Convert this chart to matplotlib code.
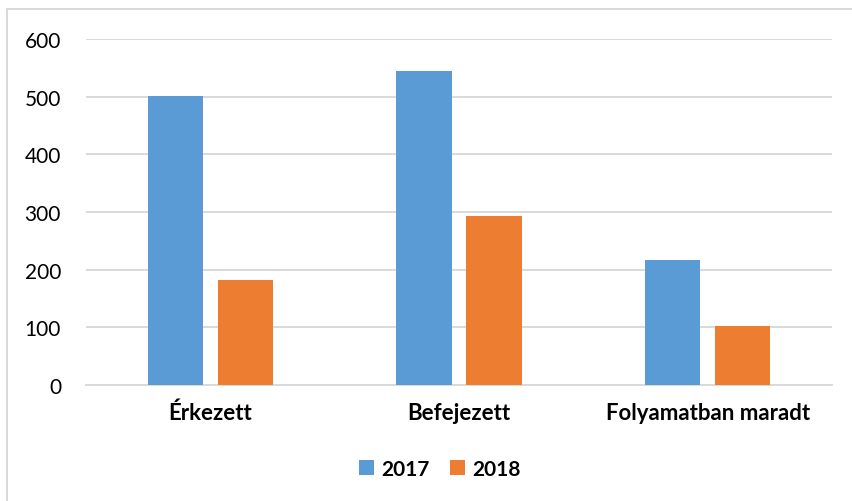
import matplotlib.pyplot as plt
import numpy as np
from matplotlib.lines import Line2D

categories = ["Érkezett", "Befejezett", "Folyamatban maradt"]
values_2017 = [501, 545, 217]
values_2018 = [182, 293, 102]
series_labels = ["2017", "2018"]

plt.rcParams["font.family"] = ["Lato", "DejaVu Sans"]

fig = plt.figure(figsize=(8.53, 5.02), dpi=100)
ax = fig.add_axes([86 / 853, 1 - 386 / 502, 746 / 853, 346 / 502])

x = np.arange(len(categories))
width = 0.222
offset = 0.141
ax.bar(x - offset, values_2017, width, color="#5b9bd5", label=series_labels[0], zorder=3)
ax.bar(x + offset, values_2018, width, color="#ed7d31", label=series_labels[1], zorder=3)

ax.set_xlim(-0.5, 2.5)
ax.set_ylim(0, 600)
ax.set_yticks(range(0, 601, 100))
ax.yaxis.grid(True, color="#d9d9d9", linewidth=1.4, zorder=0)
ax.tick_params(axis="y", length=0, pad=18, labelsize=15)
ax.tick_params(axis="x", length=0, pad=12)
ax.set_xticks(x)
ax.set_xticklabels(categories, fontsize=16, fontweight="bold")
for spine in ["top", "right", "left"]:
    ax.spines[spine].set_visible(False)
ax.spines["bottom"].set_color("#d9d9d9")
ax.spines["bottom"].set_linewidth(1.4)

fig.legend(loc="center", bbox_to_anchor=(440 / 853, 1 - 470 / 502), ncol=2,
           frameon=False, prop={"weight": "bold", "size": 15},
           handlelength=0.7, handleheight=0.7, handletextpad=0.35, columnspacing=1.0)

# chart frame (partly cut off on the right and bottom)
fig.add_artist(Line2D([7 / 853, 1], [1 - 10 / 502, 1 - 10 / 502], color="#d9d9d9", lw=1.4))
fig.add_artist(Line2D([7 / 853, 7 / 853], [0, 1 - 10 / 502], color="#d9d9d9", lw=1.4))

fig.savefig("out.png", dpi=100)
